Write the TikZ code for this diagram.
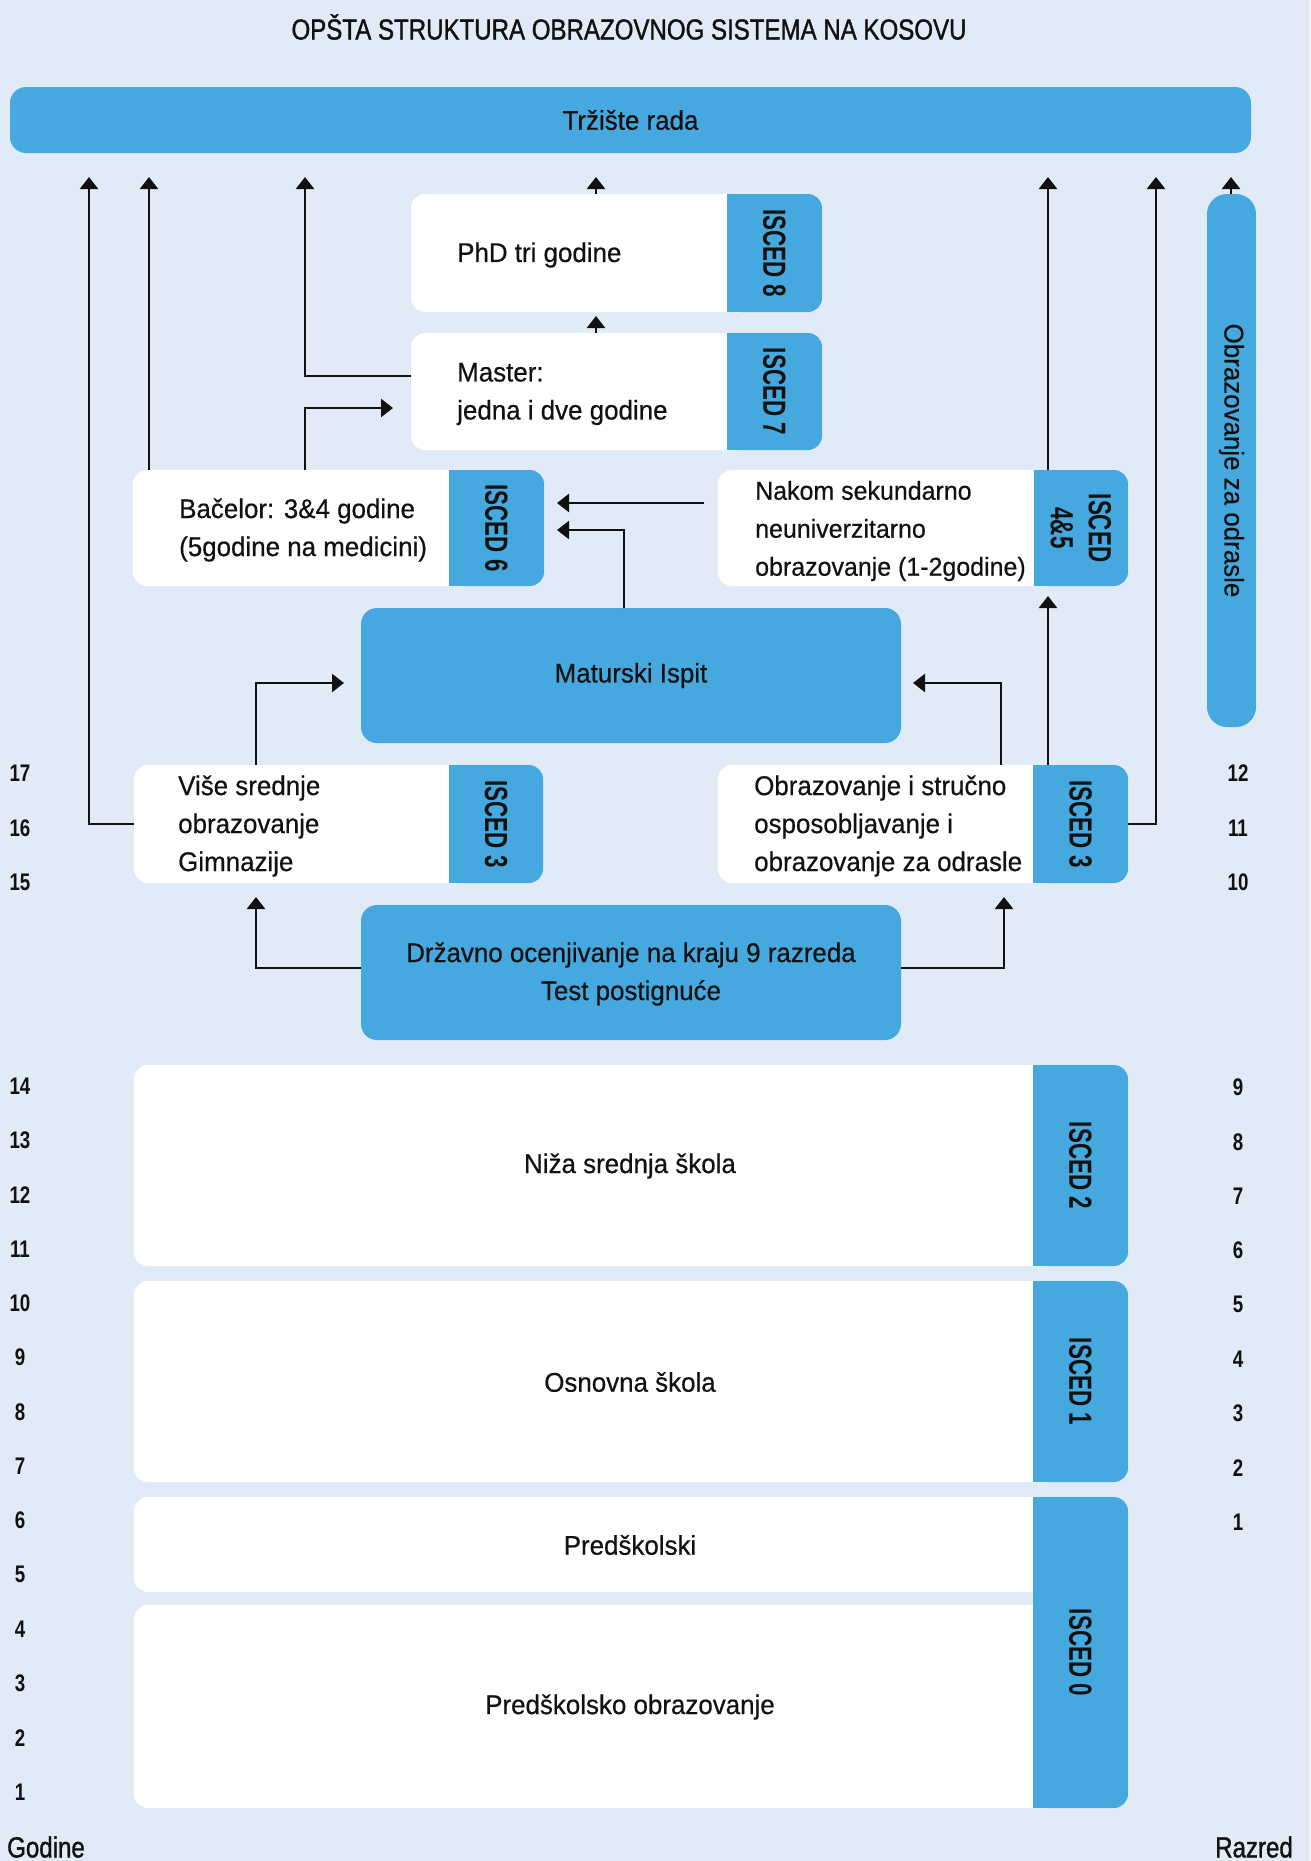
\documentclass[tikz,border=0pt]{standalone}
\usepackage{fontspec}
\setmainfont{Liberation Sans}[FakeStretch=0.96,FakeBold=0.5]
\newfontfamily\condfont{Liberation Sans}[FakeStretch=0.83,FakeBold=1.2]
\newfontfamily\numfont{Liberation Sans}[FakeStretch=0.78]
\newfontfamily\iscedfont{Liberation Sans}[FakeStretch=0.7]
\usetikzlibrary{arrows.meta,fit}
\definecolor{bg}{HTML}{E1EBF7}
\definecolor{tabblue}{HTML}{45A8DE}
\definecolor{ink}{HTML}{111111}
\tikzset{
 wbox/.style={fill=white, rounded corners=14pt, inner sep=0pt, outer sep=0pt},
 tabst/.style={fill=tabblue, rounded corners=14pt, inner sep=0pt, outer sep=0pt},
 bbox/.style={fill=tabblue, rounded corners=16pt, inner sep=0pt, outer sep=0pt},
 isced/.style={rotate=-90, font={\iscedfont\bfseries\fontsize{32}{38}\selectfont}, align=center, text=ink, inner sep=0pt},
 txt/.style={font={\fontsize{27}{38}\selectfont}, align=left, anchor=west, text=ink, inner sep=0pt},
 ctxt/.style={font={\fontsize{27}{38}\selectfont}, align=center, text=ink, inner sep=0pt},
 num/.style={font={\numfont\bfseries\fontsize{24}{28}\selectfont}, text=ink, inner sep=0pt},
 arr/.style={draw=ink, line width=2.5pt, -{Triangle[width=18pt,length=12pt]}},
}
\newcommand{\tabbed}[7]{%
  \node[wbox, fit={(#2,#3)(#4,#5)}] (#1) {};
  \node[tabst, fit={(#6,#3)(#4,#5)}] (#1T) {};
  \fill[tabblue] (#1T.north west) rectangle ([xshift=20pt]#1T.south west);
  \node[isced] (#1L) at (#1T.center) {#7};
}
\begin{document}
\begin{tikzpicture}[x=1pt,y=-1pt]
\fill[bg] (0,0) rectangle (1310,1861);
\useasboundingbox (0,0) rectangle (1310,1861);

\node[font={\condfont\fontsize{29}{34}\selectfont}, text=ink] (title) at (629,27) {OPŠTA STRUKTURA OBRAZOVNOG SISTEMA NA KOSOVU};

\node[bbox, fit={(10,87)(1251,153)}] (trz) {};
\node[ctxt] (trzX) at (trz.center) {Tržište rada};

\tabbed{phd}{411}{194}{822}{312}{727}{ISCED 8}
\node[txt] (phdX) at (457,255) {PhD tri godine};
\tabbed{mas}{411}{333}{822}{450}{727}{ISCED 7}
\node[txt] (masX) at (457,394) {Master:\\jedna i dve godine};
\tabbed{bac}{133}{470}{544}{586}{449}{ISCED 6}
\node[txt] (bacX) at (179,530) {Bačelor: 3\&4 godine\\(5godine na medicini)};
\tabbed{nak}{718}{470}{1128}{586}{1034}{ISCED\\4\&5}
\node[txt, font={\fontsize{26}{38}\selectfont}] (nakX) at (755,531) {Nakom sekundarno\\neuniverzitarno\\obrazovanje (1-2godine)};

\node[bbox, fit={(361,608)(901,743)}] (mat) {};
\node[ctxt] (matX) at (mat.center) {Maturski Ispit};

\tabbed{vis}{134}{765}{543}{883}{449}{ISCED 3}
\node[txt] (visX) at (178,826) {Više srednje\\obrazovanje\\Gimnazije};
\tabbed{obr}{718}{765}{1128}{883}{1033}{ISCED 3}
\node[txt] (obrX) at (754,826) {Obrazovanje i stručno\\osposobljavanje i\\obrazovanje za odrasle};

\node[bbox, fit={(361,905)(901,1040)}] (drz) {};
\node[ctxt] (drzX) at (631,974) {Državno ocenjivanje na kraju 9 razreda\\Test postignuće};

\node[bbox, rounded corners=20pt, fit={(1207,194)(1256,727)}] (adu) {};
\node[rotate=-90, font={\fontsize{27}{32}\selectfont}, text=ink] (aduX) at (adu.center) {Obrazovanje za odrasle};

\tabbed{niz}{134}{1065}{1128}{1266}{1033}{ISCED 2}
\node[ctxt] (nizX) at (630,1166) {Niža srednja škola};
\tabbed{osn}{134}{1281}{1128}{1482}{1033}{ISCED 1}
\node[ctxt] (osnX) at (630,1382) {Osnovna škola};
\node[wbox, fit={(134,1497)(1128,1592)}] (prs) {};
\node[wbox, fit={(134,1605)(1128,1808)}] (pro) {};
\node[tabst, fit={(1033,1497)(1128,1808)}] (prT) {};
\fill[tabblue] (prT.north west) rectangle ([xshift=20pt]prT.south west);
\node[isced] (prL) at (prT.center) {ISCED 0};
\node[ctxt] (prsX) at (630,1545) {Predškolski};
\node[ctxt] (proX) at (630,1707) {Predškolsko obrazovanje};

\foreach \n/\y in {17/773,16/828,15/882} \node[num] (L\n) at (20,\y) {\n};
\foreach \n/\y in {12/773,11/828,10/882} \node[num] (R\n) at (1238,\y) {\n};
\foreach \n in {1,...,14} \node[num] (Lb\n) at (20,{1792-(\n-1)*54.3}) {\n};
\foreach \n in {1,...,9} \node[num] (Rb\n) at (1238,{1522-(\n-1)*54.3}) {\n};
\node[font={\condfont\fontsize{29}{34}\selectfont}, text=ink] (god) at (46,1847) {Godine};
\node[font={\condfont\fontsize{29}{34}\selectfont}, text=ink] (raz) at (1254,1847) {Razred};

\coordinate (t1) at (89,177);
\coordinate (t2) at (149,177);
\coordinate (t3) at (305,177);
\coordinate (t4) at (596,177);
\coordinate (t5) at (1048,177);
\coordinate (t6) at (1156,177);
\coordinate (t7) at (1231,177);

\draw[arr] (vis.west) -| (t1);
\draw[arr] (bac.north -| t2) -- (t2);
\draw[arr] ([yshift=15.5pt]mas.west) -| (t3);
\draw[arr] (bac.north -| t3) |- ([xshift=-18pt,yshift=-16.5pt]mas.west);
\draw[arr, shorten >=4pt] (mas.north -| t4) -- (phd.south -| t4);
\draw[arr] (phd.north -| t4) -- (t4);
\draw[arr] ([xshift=-14pt,yshift=25pt]nak.west) -- ([xshift=13pt,yshift=25pt]bac.east);
\draw[arr] ([xshift=-7pt]mat.north) |- ([xshift=13pt,yshift=-2pt]bac.east);
\draw[arr] (nak.north -| t5) -- (t5);
\draw[arr, shorten >=10pt] (obr.north -| t5) -- (nak.south -| t5);
\draw[arr] (obr.east) -| (t6);
\draw[arr] ([xshift=78pt]obr.north) |- ([xshift=12pt,yshift=-7.5pt]mat.east);
\draw[arr] ([xshift=-82.5pt]vis.north) |- ([xshift=-17pt,yshift=-7.5pt]mat.west);
\draw[arr] ([yshift=4.5pt]drz.west) -| ([xshift=-82.5pt,yshift=-14pt]vis.south);
\draw[arr] ([yshift=4.5pt]drz.east) -| ([xshift=81pt,yshift=-14pt]obr.south);
\draw[arr] (adu.north -| t7) -- (t7);
\end{tikzpicture}
\end{document}
